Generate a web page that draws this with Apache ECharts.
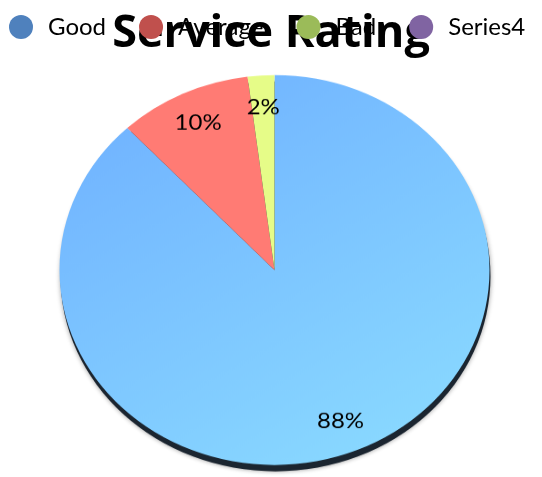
<!DOCTYPE html>
<html><head><meta charset="utf-8">
<script src="https://cdn.jsdelivr.net/npm/echarts@6/dist/echarts.min.js"></script>
<style>
html,body{margin:0;padding:0;background:#fff;overflow:hidden}
#wrap{position:relative;width:542px;height:477px;overflow:hidden}
#pie{position:absolute;left:0;top:0;width:542px;height:530px;transform:scaleY(0.907);transform-origin:0 0}
#head{position:absolute;left:0;top:0;width:542px;height:477px}
</style>
</head><body><div id="wrap"><div id="pie"></div><div id="head"></div></div>
<script>
const titleText = 'Service Rating';
const categories = ['Good', 'Average', 'Bad', 'Series4'];
const values = [88, 10, 2, 0];
const legendColors = ['#4F81BD', '#C0504D', '#9BBB59', '#8064A2'];
const sliceColors = [
  {type:'linear',x:0.2,y:0,x2:0.8,y2:1,colorStops:[{offset:0,color:'#70b2ff'},{offset:1,color:'#8adaff'}]},
  '#ff7b74', '#e6fc88', '#a08ad0'
];
const C = [274.5, 297.7], R = 215;

const pieChart = echarts.init(document.getElementById('pie'));
pieChart.setOption({
  animation:false,
  series:[
    {type:'pie',silent:true,center:[C[0]+1,C[1]+7],radius:[0,R],
      data:[{value:1,name:'',itemStyle:{color:'#1b2530',shadowBlur:5,shadowColor:'rgba(0,0,0,0.4)'}}],
      label:{show:false},labelLine:{show:false},z:1},
    {type:'pie',center:C,radius:[0,R],startAngle:90,clockwise:true,silent:true,
      data:categories.map((n,i)=>({name:n,value:values[i],itemStyle:{color:sliceColors[i]}})),
      label:{show:false},labelLine:{show:false},itemStyle:{borderWidth:0},z:2},
    {type:'pie',center:C,radius:[R*0.64,R],startAngle:90,clockwise:true,silent:true,
      data:categories.map((n,i)=>({name:n,value:values[i],label:{show:values[i]>0}})),
      itemStyle:{color:'rgba(0,0,0,0)'},
      label:{position:'inside',formatter:p=>Math.round(p.percent)+'%',fontFamily:'Lato',fontSize:24,color:'#000'},
      labelLine:{show:false},z:3}
  ]
});

const headChart = echarts.init(document.getElementById('head'));
headChart.setOption({
  animation:false,
  color: legendColors,
  title:{text:titleText,left:'center',top:7,z:1,textStyle:{fontFamily:'Open Sans',fontWeight:'bold',fontSize:45,color:'#000'}},
  legend:{data:categories,top:10,left:4,z:10,icon:'circle',itemWidth:24,itemHeight:24,itemGap:33,
    textStyle:{fontFamily:'Lato',fontSize:24,color:'#000',padding:[0,0,0,10]}},
  series:[{type:'pie',radius:[0,0],center:[-100,-100],silent:true,label:{show:false},labelLine:{show:false},
    data:categories.map((n,i)=>({name:n,value:values[i]}))}]
});
</script></body></html>
